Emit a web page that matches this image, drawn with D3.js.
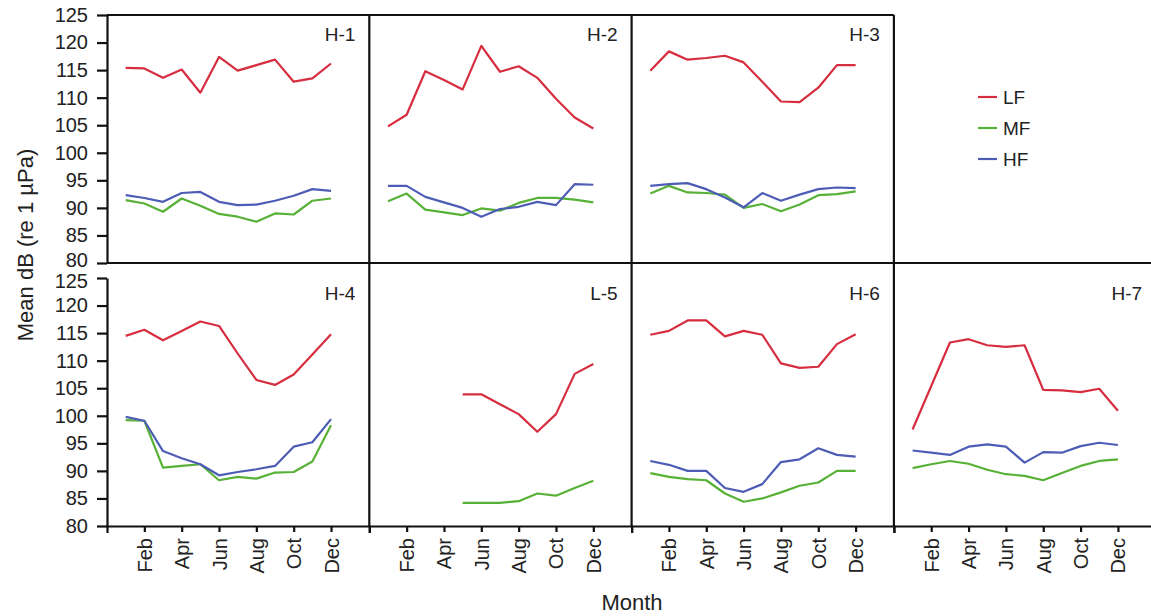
<!DOCTYPE html>
<html>
<head>
<meta charset="utf-8">
<script src="https://cdn.jsdelivr.net/npm/d3@7"></script>
<style>
	body { margin: 0; background: #fff; }
	text { font-family: "Liberation Sans", Arial, sans-serif; fill: #222; }
</style>
</head>
<body>
<div id="chart"></div>
<script>
const months = ["Jan", "Feb", "Mar", "Apr", "May", "Jun", "Jul", "Aug", "Sep", "Oct", "Nov", "Dec"]
const tickMonths = [2, 4, 6, 8, 10, 12]
const yTicks = [80, 85, 90, 95, 100, 105, 110, 115, 120, 125]
const sites = ["H-1", "H-2", "H-3", "H-4", "L-5", "H-6", "H-7"]
const seriesNames = ["LF", "MF", "HF"]

// one array per site, Jan..Dec (null = no data)
const lfValues = [
	[115.4, 115.3, 113.6, 115.1, 110.9, 117.4, 114.9, 115.9, 116.9, 112.9, 113.5, 116.2],
	[104.8, 106.9, 114.8, 113.2, 111.5, 119.4, 114.7, 115.7, 113.6, 109.8, 106.4, 104.4],
	[114.9, 118.4, 116.9, 117.2, 117.6, 116.4, 112.9, 109.3, 109.2, 111.8, 115.9, 115.9],
	[114.5, 115.6, 113.7, 115.4, 117.1, 116.3, 111.3, 106.5, 105.6, 107.5, 111.1, 114.8],
	[null, null, null, null, 103.9, 103.9, 102.1, 100.3, 97.1, 100.3, 107.6, 109.4],
	[114.7, 115.4, 117.3, 117.3, 114.4, 115.4, 114.7, 109.5, 108.7, 108.9, 113.0, 114.8],
	[97.5, 105.4, 113.3, 113.9, 112.8, 112.5, 112.8, 104.7, 104.6, 104.3, 104.9, 100.9]
]
const mfValues = [
	[91.4, 90.8, 89.3, 91.7, 90.4, 88.9, 88.4, 87.5, 89.0, 88.8, 91.3, 91.7],
	[91.2, 92.6, 89.7, 89.2, 88.7, 89.9, 89.5, 90.9, 91.8, 91.8, 91.5, 91.0],
	[92.6, 94.0, 92.8, 92.7, 92.4, 90.0, 90.7, 89.4, 90.6, 92.3, 92.5, 93.0],
	[99.2, 99.1, 90.6, 90.9, 91.2, 88.3, 88.9, 88.6, 89.7, 89.8, 91.7, 98.3],
	[null, null, null, null, 84.2, 84.2, 84.2, 84.5, 85.9, 85.5, 86.9, 88.2],
	[89.6, 88.9, 88.5, 88.3, 85.9, 84.4, 85.0, 86.1, 87.3, 87.9, 90.0, 90.0],
	[90.5, 91.2, 91.8, 91.3, 90.2, 89.4, 89.1, 88.3, 89.6, 90.9, 91.8, 92.1]
]
const hfValues = [
	[92.3, 91.8, 91.1, 92.7, 92.9, 91.1, 90.5, 90.6, 91.3, 92.2, 93.4, 93.1],
	[94.0, 94.0, 92.0, 91.0, 90.0, 88.4, 89.8, 90.2, 91.1, 90.5, 94.3, 94.2],
	[94.0, 94.3, 94.5, 93.4, 91.9, 90.1, 92.7, 91.3, 92.4, 93.4, 93.7, 93.6],
	[99.8, 99.1, 93.6, 92.3, 91.2, 89.2, 89.8, 90.3, 90.9, 94.4, 95.2, 99.4],
	[null, null, null, null, null, null, null, null, null, null, null, null],
	[91.8, 91.1, 90.0, 90.0, 86.9, 86.2, 87.6, 91.6, 92.1, 94.1, 92.9, 92.6],
	[93.7, 93.3, 92.9, 94.4, 94.8, 94.4, 91.5, 93.4, 93.3, 94.5, 95.1, 94.7]
]

const colors = ["#d62d3f", "#58b137", "#4d5db5"]
const allSeries = [lfValues, mfValues, hfValues]

const width = 1151
const height = 616
const left = 107
const panelW = 262.3
const rows = [
	{ top: 15, y125: 15, y80: 263, labelY: 41 },
	{ top: 263, y125: 278, y80: 526, labelY: 300 }
]

const svg = d3.select("#chart")
	.append("svg")
	.attr("width", width)
	.attr("height", height)

const yScales = rows.map(r => d3.scaleLinear().domain([80, 125]).range([r.y80, r.y125]))
const xScales = [0, 1, 2, 3].map(c => d3.scaleLinear()
	.domain([0, 14.05])
	.range([left + c * panelW, left + (c + 1) * panelW]))

const panels = sites.map((name, i) => ({ name, i, row: i < 3 ? 0 : 1, col: i < 3 ? i : i - 3 }))

// lines
panels.forEach(p => {
	const x = xScales[p.col], y = yScales[p.row]
	const line = d3.line()
		.defined(d => d != null)
		.x((d, j) => x(j + 1))
		.y(d => y(d))
	allSeries.forEach((vals, s) => {
		svg.append("path")
			.datum(vals[p.i])
			.attr("d", line)
			.attr("fill", "none")
			.attr("stroke", colors[s])
			.attr("stroke-width", 2.2)
			.attr("stroke-linejoin", "round")
	})
	svg.append("text")
		.attr("x", x.range()[1] - 14)
		.attr("y", rows[p.row].labelY)
		.attr("text-anchor", "end")
		.style("font-size", "19px")
		.text(p.name)
})

// frame lines
const frame = svg.append("g").attr("stroke", "#111").attr("stroke-width", 2.2)
frame.append("line")
	.attr("x1", xScales[0].range()[0]).attr("x2", xScales[2].range()[1])
	.attr("y1", rows[0].y125).attr("y2", rows[0].y125)
frame.append("line")
	.attr("x1", xScales[0].range()[0]).attr("x2", width)
	.attr("y1", rows[0].y80).attr("y2", rows[0].y80)
xScales.slice(0, 3).forEach(x => {
	frame.append("line")
		.attr("x1", x.range()[1]).attr("x2", x.range()[1])
		.attr("y1", rows[0].top).attr("y2", rows[1].y80)
})

// y axes
yScales.forEach((y, r) => {
	const g = svg.append("g")
		.attr("transform", `translate(${left},0)`)
		.call(d3.axisLeft(y).tickValues(yTicks).tickSize(10).tickPadding(9).tickSizeOuter(0))
	g.selectAll("path, line").attr("stroke", "#111").attr("stroke-width", 2.2)
	g.selectAll("text").style("font-size", "20px").attr("fill", "#222")
	// the 80 of the top row and the 125 of the bottom row sit nearly on top of each other
	g.selectAll(".tick text")
		.filter(d => (r === 0 && d === 80) || (r === 1 && d === 125))
		.attr("y", r === 0 ? -3 : 3)
})

// x axes (bottom row)
xScales.forEach(x => {
	const g = svg.append("g")
		.attr("transform", `translate(0,${rows[1].y80})`)
		.call(d3.axisBottom(x).tickValues(tickMonths).tickSize(6).tickSizeOuter(7)
			.tickFormat(m => months[m - 1]))
	g.selectAll("path, line").attr("stroke", "#111").attr("stroke-width", 2.2)
	g.selectAll("text")
		.attr("transform", "rotate(-90)")
		.attr("x", -12)
		.attr("y", 0)
		.attr("dy", "0.35em")
		.style("text-anchor", "end")
		.style("font-size", "20px")
		.attr("fill", "#222")
})

// legend
const legend = svg.append("g").attr("transform", "translate(978,97)")
seriesNames.forEach((name, i) => {
	const item = legend.append("g").attr("transform", `translate(0,${i * 31})`)
	item.append("line")
		.attr("x1", 0).attr("x2", 19)
		.attr("stroke", colors[i]).attr("stroke-width", 2.2)
	item.append("text")
		.attr("x", 25)
		.attr("dy", "0.35em")
		.style("font-size", "19px")
		.text(name)
})

// axis titles
svg.append("text")
	.attr("transform", "translate(33,245) rotate(-90)")
	.attr("text-anchor", "middle")
	.style("font-size", "22px")
	.text("Mean dB (re 1 µPa)")

svg.append("text")
	.attr("x", 632)
	.attr("y", 610)
	.attr("text-anchor", "middle")
	.style("font-size", "22px")
	.text("Month")
</script>
</body>
</html>
